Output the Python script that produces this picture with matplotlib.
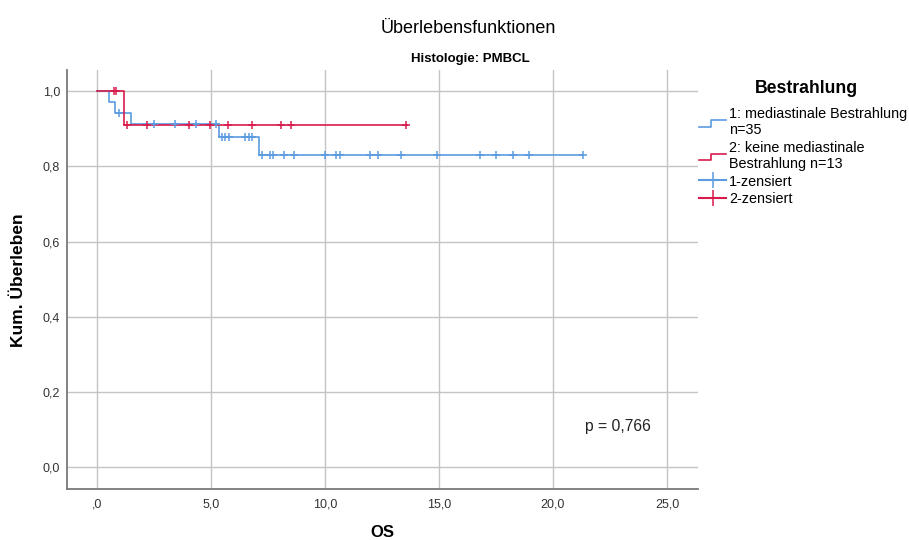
import matplotlib
matplotlib.use("Agg")
from matplotlib import pyplot as plt
from matplotlib.lines import Line2D
from matplotlib.legend_handler import HandlerBase
from matplotlib.ticker import FuncFormatter

plt.rcParams['font.family'] = ['Liberation Sans', 'DejaVu Sans']

# Gruppe 1: mediastinale Bestrahlung (Stufen + zensierte Fälle)
t1 = [0.0, 0.53, 0.79, 1.49, 5.35, 7.10, 21.3]
s1 = [1.0, 0.971, 0.943, 0.914, 0.879, 0.830, 0.830]
c1_t = [0.98, 2.51, 3.42, 4.34, 5.25, 5.50, 5.64, 5.79, 6.52, 6.67, 6.81,
        7.25, 7.60, 7.72, 8.21, 8.64, 10.0, 10.5, 10.66, 11.97, 12.34, 13.36,
        14.93, 16.82, 17.5, 18.23, 18.95, 21.3]

# Gruppe 2: keine mediastinale Bestrahlung
t2 = [0.0, 1.18, 13.6]
s2 = [1.0, 0.909, 0.909]
c2_t = [0.76, 0.86, 1.34, 2.2, 4.04, 4.96, 5.76, 6.83, 8.1, 8.54, 13.58]

xticks = [0, 5, 10, 15, 20, 25]
yticks = [0.0, 0.2, 0.4, 0.6, 0.8, 1.0]

blue = '#5b9be0'
red = '#d81b4b'


def surv_at(t, s, x):
    v = s[0]
    for ti, si in zip(t, s):
        if x >= ti:
            v = si
    return v


class StepHandler(HandlerBase):
    def create_artists(self, legend, orig, xd, yd, w, h, fontsize, trans):
        x = [xd, xd + w * 0.45, xd + w * 0.45, xd + w]
        y = [yd + h * 0.1, yd + h * 0.1, yd + h * 0.75, yd + h * 0.75]
        ln = Line2D(x, y, color=orig.get_color(), lw=1.2, transform=trans)
        return [ln]


fig = plt.figure(figsize=(9.09, 5.4), dpi=100)
ax = fig.add_axes([0.0737, 0.094, 0.694, 0.776])

ax.step(t1, s1, where='post', color=blue, lw=1.2)
ax.step(t2, s2, where='post', color=red, lw=1.2)
ax.plot(c1_t, [surv_at(t1, s1, x) for x in c1_t], '+', color=blue,
        ms=6, mew=1.1, ls='none')
ax.plot(c2_t, [surv_at(t2, s2, x) for x in c2_t], '+', color=red,
        ms=6, mew=1.1, ls='none')

ax.set_xlim(-1.3, 26.35)
ax.set_ylim(-0.058, 1.056)
ax.set_xticks(xticks)
ax.set_yticks(yticks)
ax.xaxis.set_major_formatter(FuncFormatter(
    lambda v, p: ",0" if v == 0 else ("%.1f" % v).replace(".", ",")))
ax.yaxis.set_major_formatter(FuncFormatter(
    lambda v, p: ("%.1f" % v).replace(".", ",")))
ax.tick_params(length=0, labelsize=9, colors='#333333')
ax.tick_params(axis='x', pad=7)
ax.tick_params(axis='y', pad=5)
ax.grid(True, color='#c4c4c4', lw=1)
ax.set_axisbelow(True)
for sp in ['top', 'right']:
    ax.spines[sp].set_visible(False)
for sp in ['left', 'bottom']:
    ax.spines[sp].set_color('#7a7a7a')
    ax.spines[sp].set_linewidth(1.3)

ax.set_ylabel("Kum. Überleben", fontsize=12.5, fontweight='bold', labelpad=12)
fig.text(0.421, 0.013, "OS", fontsize=12, fontweight='bold',
         ha='center', va='center')
ax.text(22.85, 0.109, "p = 0,766", fontsize=11.3, ha='center', va='center',
        color='#222222')

fig.text(0.515, 0.947, "Überlebensfunktionen", fontsize=13,
         ha='center', va='center')
fig.text(0.517, 0.891, "Histologie: PMBCL", fontsize=9.5,
         fontweight='bold', ha='center', va='center')

fig.text(0.887, 0.837, "Bestrahlung", fontsize=12.7, fontweight='bold',
         ha='center', va='center')
h1 = Line2D([], [], color=blue)
h2 = Line2D([], [], color=red)
h3 = Line2D([], [], color=blue, marker='+', ms=11, mew=1.1)
h4 = Line2D([], [], color=red, marker='+', ms=11, mew=1.1)
leg = fig.legend([h1, h2, h3, h4],
                 ["1: mediastinale Bestrahlung\nn=35",
                  "2: keine mediastinale\nBestrahlung n=13",
                  "1-zensiert", "2-zensiert"],
                 handler_map={h1: StepHandler(), h2: StepHandler()},
                 loc='upper left', bbox_to_anchor=(0.769, 0.802),
                 borderpad=0, borderaxespad=0,
                 frameon=False, fontsize=10.4, handlelength=1.9,
                 handletextpad=0.2, labelspacing=0.25)

fig.savefig("out.png", dpi=100)
